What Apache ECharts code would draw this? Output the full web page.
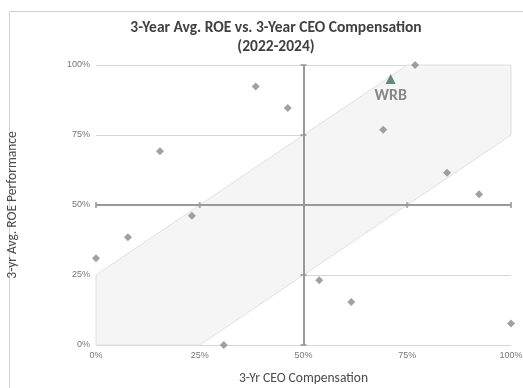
<!DOCTYPE html>
<html>
<head>
<meta charset="utf-8">
<script src="https://cdn.jsdelivr.net/npm/echarts@6/dist/echarts.min.js"></script>
<style>
html, body { margin: 0; padding: 0; background: #fff; }
#main { width: 523px; height: 388px; }
</style>
</head>
<body>
<div id="main"></div>
<script>
// percentile ranks (x = CEO pay, y = ROE)
var peerX = [0, 0.077, 0.231, 0.308, 0.154, 0.385, 0.462, 0.692, 0.769, 0.846, 0.923, 0.538, 0.615, 1.0];
var peerY = [0.31, 0.385, 0.462, 0, 0.692, 0.923, 0.846, 0.769, 1.0, 0.615, 0.538, 0.231, 0.154, 0.077];
var wrb = [0.71, 0.95];
// alignment band +/- 25%
var bandPoints = [[0, 0.25], [0, 0], [0.25, 0], [1, 0.75], [1, 1], [0.75, 1]];
var hCaps = [[0, 0.5], [0.25, 0.5], [0.75, 0.5], [1, 0.5]];
var vCaps = [[0.5, 0], [0.5, 0.25], [0.5, 0.75], [0.5, 1]];

var peers = peerX.map(function (x, i) { return [x, peerY[i]]; });
var pct = function (v) { return Math.round(v * 100) + '%'; };
var font = 'Carlito, "Open Sans", sans-serif';

var chart = echarts.init(document.getElementById('main'));

var option = {
	animation: false,
	title: {
		text: '3-Year Avg. ROE vs. 3-Year CEO Compensation\n(2022-2024)',
		left: 271,
		textAlign: 'center',
		top: 14,
		textStyle: {
			fontFamily: font,
			fontSize: 15.5,
			fontWeight: 'bold',
			color: '#404040',
			lineHeight: 19
		}
	},
	graphic: [{
		type: 'rect',
		shape: { x: 9.5, y: 11.5, width: 530, height: 400 },
		style: { fill: 'none', stroke: '#d0d0d0', lineWidth: 1 },
		silent: true
	}],
	grid: { left: 96, right: 12, top: 65, bottom: 43, outerBoundsMode: 'none', containLabel: false },
	xAxis: {
		type: 'value', min: 0, max: 1, interval: 0.25,
		name: '3-Yr CEO Compensation',
		nameLocation: 'middle', nameGap: 27,
		nameTextStyle: { fontFamily: font, fontSize: 13.5, color: '#4a4a4a' },
		axisLine: { show: false }, axisTick: { show: false },
		splitLine: { show: false },
		axisLabel: { formatter: pct, fontSize: 9, color: '#777', fontFamily: 'Arial, sans-serif', margin: 6 }
	},
	yAxis: {
		type: 'value', min: 0, max: 1, interval: 0.25,
		name: '3-yr Avg. ROE Performance',
		nameLocation: 'middle', nameGap: 76,
		nameTextStyle: { fontFamily: font, fontSize: 13.5, color: '#4a4a4a' },
		axisLine: { show: false }, axisTick: { show: false },
		splitLine: { lineStyle: { color: '#d6d6d6', width: 1 } },
		axisLabel: { formatter: pct, fontSize: 9, color: '#777', fontFamily: 'Arial, sans-serif', margin: 6 }
	},
	series: [
		{
			// shaded band
			type: 'custom',
			silent: true,
			z: 1,
			renderItem: function (params, api) {
				var pts = bandPoints.map(function (p) { return api.coord(p); });
				return {
					type: 'polygon',
					shape: { points: pts },
					style: { fill: '#f5f5f5', stroke: '#e0e0e0', lineWidth: 1 }
				};
			},
			data: [0]
		},
		{
			// crosshair at 50%
			type: 'line',
			data: [],
			z: 2,
			markLine: {
				silent: true,
				symbol: 'none',
				label: { show: false },
				lineStyle: { color: '#999', width: 2, type: 'solid' },
				data: [{ xAxis: 0.5 }, { yAxis: 0.5 }]
			}
		},
		{
			type: 'scatter',
			data: hCaps,
			symbol: 'rect',
			symbolSize: [2, 6],
			itemStyle: { color: '#999' },
			silent: true,
			z: 3
		},
		{
			type: 'scatter',
			data: vCaps,
			symbol: 'rect',
			symbolSize: [6, 2],
			itemStyle: { color: '#999' },
			silent: true,
			z: 3
		},
		{
			name: 'Peers',
			type: 'scatter',
			data: peers,
			symbol: 'diamond',
			symbolSize: 8,
			itemStyle: { color: '#8a8a8a' },
			z: 5
		},
		{
			name: 'WRB',
			type: 'scatter',
			data: [wrb],
			symbol: 'triangle',
			symbolSize: 10,
			itemStyle: { color: '#3f6e5c' },
			label: {
				show: true,
				position: 'bottom',
				distance: 4,
				formatter: 'WRB',
				fontFamily: font,
				fontSize: 16,
				fontWeight: 'bold',
				color: '#6b6b6b'
			},
			z: 6
		}
	]
};

chart.setOption(option);
</script>
</body>
</html>
